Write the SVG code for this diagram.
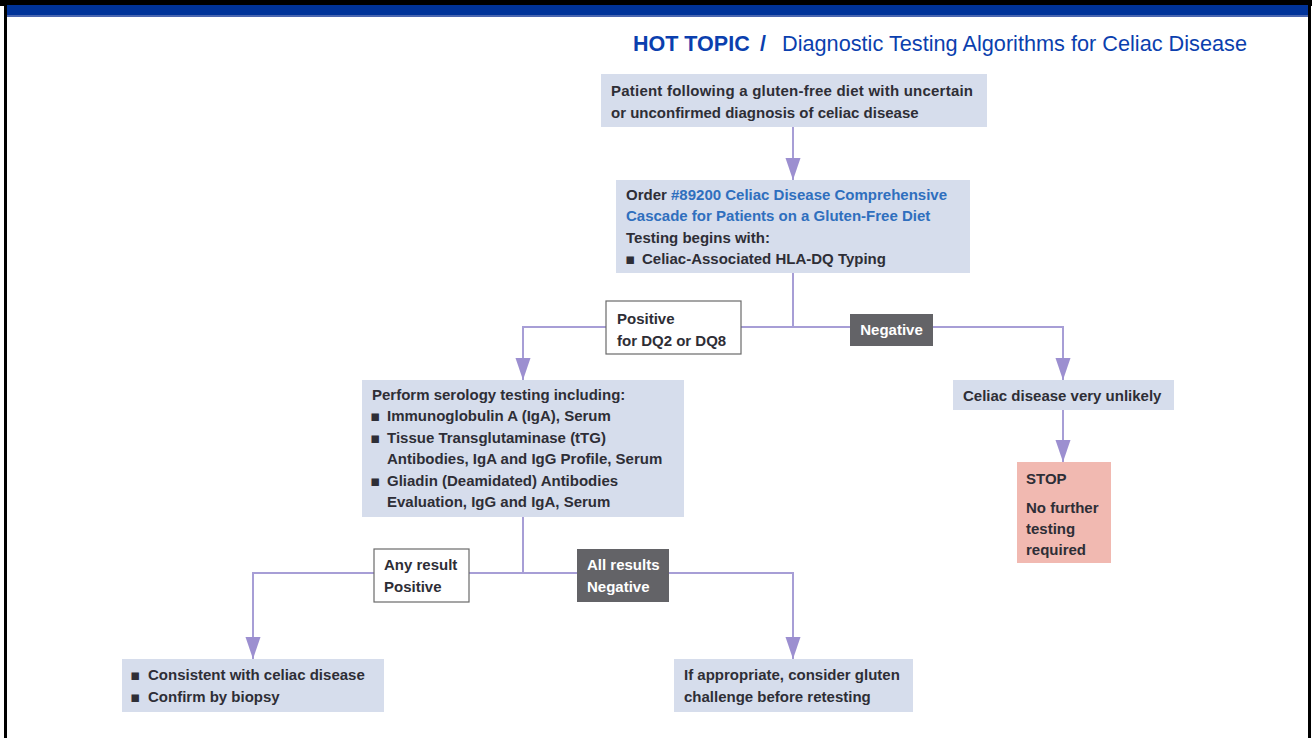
<svg xmlns="http://www.w3.org/2000/svg" width="1312" height="738" viewBox="0 0 1312 738">
<style>
.box{fill:#d6ddec}
.t{font-family:"Liberation Sans",Arial,sans-serif;font-size:15px;font-weight:bold;fill:#2e2e36}
.w{fill:#ffffff}
.blue{fill:#2f6fbe}
.lbl{fill:#ffffff;stroke:#6a6a6a;stroke-width:1.2}
.dark{fill:#636367}
.conn{fill:none;stroke:#a79ed6;stroke-width:2}
.b{font-family:"DejaVu Sans",sans-serif;font-size:15px;font-weight:normal}
</style>
<defs>
<marker id="ah" markerUnits="userSpaceOnUse" markerWidth="22" markerHeight="16" refX="22" refY="7.5" orient="auto">
<path d="M0,0 L22,7.5 L0,15 z" fill="#9c8fd0"/>
</marker>
</defs>
<rect x="0" y="0" width="1312" height="738" fill="#ffffff"/>
<rect x="0" y="0" width="1312" height="6" fill="#000000"/>
<rect x="4" y="5" width="1305" height="12" fill="#003399"/>
<rect x="4" y="15" width="1305" height="2" fill="#4a66b0"/>
<rect x="4" y="5" width="3" height="733" fill="#000000"/>
<rect x="1308" y="5" width="3" height="733" fill="#000000"/>

<g id="title" font-family="Liberation Sans,Arial,sans-serif" font-size="21.5" fill="#0b3fae">
<text x="633" y="51" font-weight="bold">HOT TOPIC</text>
<text x="760" y="51" font-weight="bold">/</text>
<text x="782" y="51" textLength="465" lengthAdjust="spacingAndGlyphs">Diagnostic Testing Algorithms for Celiac Disease</text>
</g>

<g id="connectors">
<line class="conn" x1="793" y1="127" x2="793" y2="180" marker-end="url(#ah)"/>
<polyline class="conn" points="793,273 793,327 523,327 523,380" marker-end="url(#ah)"/>
<polyline class="conn" points="793,327 1063,327 1063,380" marker-end="url(#ah)"/>
<line class="conn" x1="1063" y1="410" x2="1063" y2="462" marker-end="url(#ah)"/>
<polyline class="conn" points="523,517 523,573 253,573 253,659" marker-end="url(#ah)"/>
<polyline class="conn" points="523,573 793,573 793,659" marker-end="url(#ah)"/>
</g>

<g id="n1">
<rect class="box" x="601" y="74" width="386" height="53"/>
<text class="t" x="611" y="96" textLength="362">Patient following a gluten-free diet with uncertain</text>
<text class="t" x="611" y="118">or unconfirmed diagnosis of celiac disease</text>
</g>

<g id="n2">
<rect class="box" x="616" y="180" width="354" height="93"/>
<text class="t" x="626" y="200">Order <tspan class="blue">#89200 Celiac Disease Comprehensive</tspan></text>
<text class="t blue" x="626" y="221">Cascade for Patients on a Gluten-Free Diet</text>
<text class="t" x="626" y="243">Testing begins with:</text>
<text class="t" y="264"><tspan class="b" x="625">▪</tspan><tspan x="642">Celiac-Associated HLA-DQ Typing</tspan></text>
</g>

<g id="l1">
<rect class="lbl" x="606" y="301" width="135" height="53"/>
<text class="t" x="617" y="324">Positive</text>
<text class="t" x="617" y="346">for DQ2 or DQ8</text>
</g>

<g id="l2">
<rect class="dark" x="850" y="314" width="83" height="32"/>
<text class="t w" x="891.5" y="335" text-anchor="middle">Negative</text>
</g>

<g id="n3">
<rect class="box" x="362" y="380" width="322" height="137"/>
<text class="t" x="372" y="400">Perform serology testing including:</text>
<text class="t" y="421"><tspan class="b" x="370">▪</tspan><tspan x="387">Immunoglobulin A (IgA), Serum</tspan></text>
<text class="t" y="443"><tspan class="b" x="370">▪</tspan><tspan x="387">Tissue Transglutaminase (tTG)</tspan></text>
<text class="t" x="387" y="464">Antibodies, IgA and IgG Profile, Serum</text>
<text class="t" y="486"><tspan class="b" x="370">▪</tspan><tspan x="387">Gliadin (Deamidated) Antibodies</tspan></text>
<text class="t" x="387" y="507">Evaluation, IgG and IgA, Serum</text>
</g>

<g id="n4">
<rect class="box" x="953" y="380" width="221" height="30"/>
<text class="t" x="963" y="401">Celiac disease very unlikely</text>
</g>

<g id="n5">
<rect x="1017" y="462" width="94" height="101" fill="#f1b9b1"/>
<text class="t" x="1026" y="484">STOP</text>
<text class="t" x="1026" y="513">No further</text>
<text class="t" x="1026" y="534">testing</text>
<text class="t" x="1026" y="555">required</text>
</g>

<g id="l3">
<rect class="lbl" x="374" y="549" width="95" height="53"/>
<text class="t" x="384" y="570">Any result</text>
<text class="t" x="384" y="592">Positive</text>
</g>

<g id="l4">
<rect class="dark" x="577" y="549" width="92" height="53"/>
<text class="t w" x="587" y="570">All results</text>
<text class="t w" x="587" y="592">Negative</text>
</g>

<g id="n6">
<rect class="box" x="122" y="659" width="262" height="53"/>
<text class="t" y="680"><tspan class="b" x="130">▪</tspan><tspan x="148">Consistent with celiac disease</tspan></text>
<text class="t" y="702"><tspan class="b" x="130">▪</tspan><tspan x="148">Confirm by biopsy</tspan></text>
</g>

<g id="n7">
<rect class="box" x="674" y="659" width="239" height="53"/>
<text class="t" x="684" y="680">If appropriate, consider gluten</text>
<text class="t" x="684" y="702">challenge before retesting</text>
</g>
</svg>
